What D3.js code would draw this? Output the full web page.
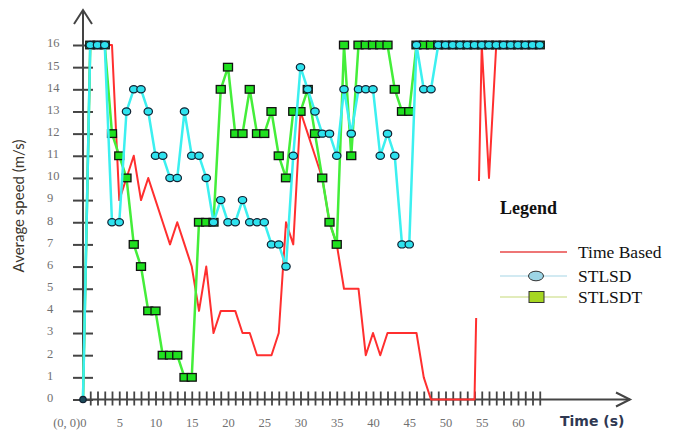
<!DOCTYPE html>
<html>
<head>
<meta charset="utf-8">
<script src="https://cdn.jsdelivr.net/npm/d3@7"></script>
<style>
  html, body { margin: 0; padding: 0; background: #fff; }
  svg { display: block; }
</style>
</head>
<body>
<svg id="chart" width="680" height="431"></svg>
<script>
// Time in seconds (one sample per second)
const time = [0,1,2,3,4,5,6,7,8,9,10,11,12,13,14,15,16,17,18,19,20,21,22,23,24,25,26,27,28,29,30,31,
              32,33,34,35,36,37,38,39,40,41,42,43,44,45,46,47,48,49,50,51,52,53,54,55,56,57,58,59,60,61,62,63];

// Average speed (m/s) for each method
const timeBased = [0,16,16,16,16,9,10,11,9,10,9,8,7,8,7,6,4,6,3,4,4,4,3,3,2,2,2,3,8,7,13,12,
                   11,10,8,7,5,5,5,2,3,2,3,3,3,3,3,1,0,0,0,0,0,0,0,16,10,16,16,16,16,16,16,16];
const stlsd     = [0,16,16,16,8,8,13,14,14,13,11,11,10,10,13,11,11,10,8,9,8,8,9,8,8,8,7,7,6,11,15,14,
                   13,12,12,11,14,12,14,14,14,11,12,11,7,7,16,14,14,16,16,16,16,16,16,16,16,16,16,16,16,16,16,16];
const stlsdt    = [0,16,16,16,12,11,10,7,6,4,4,2,2,2,1,1,8,8,8,14,15,12,12,14,12,12,13,11,10,13,13,14,
                   12,10,8,7,16,11,16,16,16,16,16,14,13,13,16,16,16,16,16,16,16,16,16,16,16,16,16,16,16,16,16,16];

// Axis labels
const yTickValues = [0,1,2,3,4,5,6,7,8,9,10,11,12,13,14,15,16];
const xLabelValues = [0,5,10,15,20,25,30,35,40,45,50,55,60];
const xLabelTexts  = ["(0, 0)0","5","10","15","20","25","30","35","40","45","50","55","60"];
const legendNames  = ["Time Based","STLSD","STLSDT"];

const svg = d3.select("#chart");
const AXIS = "#444";
const SERIF = "'Liberation Serif','Times New Roman',serif";

const x = d3.scaleLinear().domain([0, 63]).range([83, 539.75]);
const y = d3.scaleLinear().domain([0, 16]).range([399.5, 45]);

// ---- Y axis: ticks cross the axis line, labels left-aligned ----
const yAxis = svg.append("g")
  .attr("transform", `translate(${x(0)},0)`)
  .call(d3.axisLeft(y).tickValues(yTickValues).tickSize(10).tickFormat(d3.format("d")));
yAxis.select(".domain").remove();
yAxis.selectAll(".tick line").attr("x1", -10).attr("x2", 10)
  .attr("stroke", AXIS).attr("stroke-width", 2);
yAxis.selectAll(".tick text")
  .attr("x", -36).attr("dy", "0.15em").attr("text-anchor", "start")
  .attr("font-family", SERIF).attr("font-size", 12.5).attr("fill", "#707070");

svg.append("line").attr("x1", x(0)).attr("x2", x(0)).attr("y1", 400).attr("y2", 10)
  .attr("stroke", AXIS).attr("stroke-width", 2);
svg.append("path").attr("d", "M74,24 L83,10 L92,24")
  .attr("fill", "none").attr("stroke", AXIS).attr("stroke-width", 2);

// ---- X axis: one tick mark per second, labels every 5 s ----
const xMinor = svg.append("g")
  .attr("transform", `translate(0,${y(0)})`)
  .call(d3.axisBottom(x).tickValues(d3.range(1, 64)).tickSize(6).tickFormat(""));
xMinor.select(".domain").remove();
xMinor.selectAll(".tick line").attr("y1", -8).attr("stroke", AXIS).attr("stroke-width", 1.8);

const xLabels = svg.append("g")
  .attr("transform", `translate(0,${y(0)})`)
  .call(d3.axisBottom(x).tickValues(xLabelValues).tickSize(0).tickPadding(19)
    .tickFormat((d, i) => xLabelTexts[i]));
xLabels.select(".domain").remove();
xLabels.selectAll(".tick text")
  .attr("font-family", SERIF).attr("font-size", 12.5).attr("fill", "#707070")
  .attr("text-anchor", (d, i) => i === 0 ? "end" : "middle")
  .attr("dx", (d, i) => i === 0 ? 3 : 0);

svg.append("line").attr("x1", x(0)).attr("x2", 630).attr("y1", y(0)).attr("y2", y(0))
  .attr("stroke", AXIS).attr("stroke-width", 2);
svg.append("path").attr("d", `M616,${y(0) - 7} L630,${y(0)} L616,${y(0) + 7}`)
  .attr("fill", "none").attr("stroke", AXIS).attr("stroke-width", 2);

// ---- Axis titles ----
svg.append("text")
  .attr("transform", "translate(24,206) rotate(-90)")
  .attr("text-anchor", "middle")
  .attr("font-family", "Lato, 'Open Sans', sans-serif").attr("font-size", 15)
  .attr("fill", "#3a352c")
  .text("Average speed (m/s)");

svg.append("text")
  .attr("x", 560).attr("y", 426)
  .attr("font-family", "'DejaVu Sans', sans-serif").attr("font-size", 14).attr("font-weight", "bold")
  .attr("fill", "#2f3852")
  .text("Time (s)");

// ---- Series ----
const line = d3.line().x(d => x(d.t)).y(d => y(d.v));
const toPts = vals => time.map((t, i) => ({ t, v: vals[i] }));

// Time Based: plain red line
svg.append("path").datum(toPts(timeBased))
  .attr("d", line).attr("fill", "none")
  .attr("stroke", "#ff2f2f").attr("stroke-width", 2).attr("stroke-linejoin", "round");

// STLSDT: green line with square markers (no marker at the origin)
const ptsT = toPts(stlsdt);
svg.append("path").datum(ptsT)
  .attr("d", line).attr("fill", "none")
  .attr("stroke", "#44ee3a").attr("stroke-width", 2.5).attr("stroke-linejoin", "round");
svg.append("g").selectAll("rect").data(ptsT.filter(d => d.t > 0)).join("rect")
  .attr("x", d => x(d.t) - 4.5).attr("y", d => y(d.v) - 3.8)
  .attr("width", 9).attr("height", 7.6)
  .attr("fill", "#1fe01f").attr("stroke", "#111").attr("stroke-width", 1.3);

// STLSD: cyan line with oval markers
const ptsD = toPts(stlsd);
svg.append("path").datum(ptsD)
  .attr("d", line).attr("fill", "none")
  .attr("stroke", "#3cf0f0").attr("stroke-width", 2.5).attr("stroke-linejoin", "round");
svg.append("g").selectAll("ellipse").data(ptsD).join("ellipse")
  .attr("cx", d => x(d.t)).attr("cy", d => y(d.v))
  .attr("rx", d => d.t > 0 ? 4.2 : 3.2).attr("ry", d => d.t > 0 ? 3.6 : 3.2)
  .attr("fill", d => d.t > 0 ? "#2ee2ee" : "#1d4a5a").attr("stroke", "#123").attr("stroke-width", 1.2);

// ---- Legend (white panel drawn over the plot) ----
const lg = svg.append("g");
lg.append("rect").attr("x", 474.5).attr("y", 181).attr("width", 206).attr("height", 137).attr("fill", "#fff");
lg.append("text").attr("x", 500).attr("y", 214)
  .attr("font-family", SERIF).attr("font-size", 18).attr("font-weight", "bold").attr("fill", "#111")
  .text("Legend");

const legendY = [252, 276, 297];
const legendLine = ["#e84848", "#a6d6e6", "#c6da78"];
legendNames.forEach((name, i) => {
  lg.append("line").attr("x1", 500).attr("x2", 567).attr("y1", legendY[i]).attr("y2", legendY[i])
    .attr("stroke", legendLine[i]).attr("stroke-width", i === 0 ? 1.6 : 1.2);
  lg.append("text").attr("x", 578).attr("y", legendY[i] + 6)
    .attr("font-family", SERIF).attr("font-size", 17.5).attr("fill", "#111")
    .text(name);
});
lg.append("ellipse").attr("cx", 536).attr("cy", legendY[1]).attr("rx", 7.5).attr("ry", 4.8)
  .attr("fill", "#9dd5e6").attr("stroke", "#333").attr("stroke-width", 1);
lg.append("rect").attr("x", 529).attr("y", legendY[2] - 5.5).attr("width", 15).attr("height", 11)
  .attr("fill", "#a6d622").attr("stroke", "#333").attr("stroke-width", 1);
</script>
</body>
</html>
